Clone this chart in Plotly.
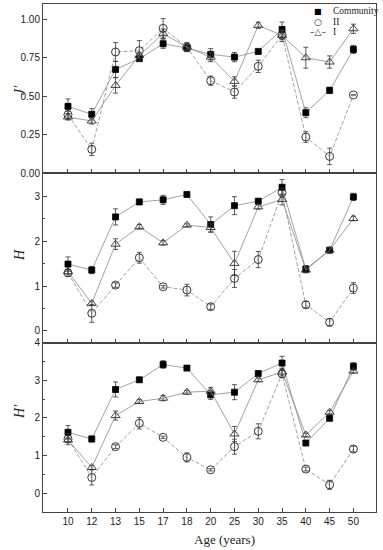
import plotly.graph_objects as go
from plotly.subplots import make_subplots

ages = ["10", "12", "13", "15", "17", "18", "20", "25", "30", "35", "40", "45", "50"]

# J' (evenness)
j_comm = [0.435, 0.383, 0.675, 0.745, 0.842, 0.814, 0.773, 0.755, 0.792, 0.935, 0.394, 0.539, 0.805]
j_comm_err = [0.048, 0.037, 0.052, 0.012, 0.03, 0.02, 0.037, 0.03, 0.012, 0.048, 0.032, 0.02, 0.026]
j_ii = [0.381, 0.156, 0.788, 0.797, 0.942, 0.82, 0.602, 0.528, 0.695, 0.898, 0.236, 0.11, 0.509]
j_ii_err = [0.03, 0.04, 0.061, 0.065, 0.063, 0.03, 0.03, 0.04, 0.04, 0.03, 0.035, 0.054, 0.0]
j_i = [0.366, 0.34, 0.571, 0.766, 0.907, 0.82, 0.755, 0.597, 0.961, 0.896, 0.751, 0.723, 0.939]
j_i_err = [0.02, 0.02, 0.05, 0.02, 0.03, 0.02, 0.03, 0.03, 0.02, 0.04, 0.068, 0.04, 0.03]

# H
h_comm = [1.489, 1.356, 2.54, 2.874, 2.92, 3.04, 2.37, 2.79, 2.89, 3.2, 1.378, 1.8, 2.985]
h_comm_err = [0.16, 0.08, 0.18, 0.06, 0.1, 0.05, 0.17, 0.2, 0.05, 0.17, 0.08, 0.05, 0.08]
h_ii = [1.296, 0.393, 1.022, 1.63, 0.985, 0.911, 0.541, 1.17, 1.59, 3.08, 0.585, 0.193, 0.956]
h_ii_err = [0.08, 0.2, 0.05, 0.12, 0.03, 0.13, 0.06, 0.2, 0.18, 0.1, 0.07, 0.08, 0.12]
h_i = [1.318, 0.615, 1.933, 2.32, 1.963, 2.356, 2.304, 1.504, 2.763, 2.926, 1.356, 1.8, 2.504]
h_i_err = [0.05, 0.05, 0.12, 0.05, 0.05, 0.03, 0.1, 0.27, 0.05, 0.12, 0.06, 0.06, 0.05]

# H'
hp_comm = [1.618, 1.44, 2.756, 3.013, 3.42, 3.324, 2.613, 2.684, 3.18, 3.458, 1.333, 1.99, 3.369]
hp_comm_err = [0.18, 0.08, 0.2, 0.05, 0.1, 0.05, 0.12, 0.2, 0.05, 0.18, 0.05, 0.05, 0.1]
hp_ii = [1.44, 0.418, 1.236, 1.858, 1.484, 0.951, 0.622, 1.236, 1.644, 3.173, 0.64, 0.222, 1.173]
hp_ii_err = [0.15, 0.2, 0.05, 0.15, 0.03, 0.12, 0.03, 0.2, 0.2, 0.1, 0.05, 0.12, 0.08]
hp_i = [1.413, 0.684, 2.062, 2.436, 2.524, 2.684, 2.711, 1.573, 3.013, 3.218, 1.547, 2.151, 3.244]
hp_i_err = [0.05, 0.05, 0.12, 0.05, 0.07, 0.05, 0.1, 0.2, 0.05, 0.1, 0.05, 0.05, 0.05]

xpos = list(range(len(ages)))

fig = make_subplots(rows=3, cols=1, shared_xaxes=True, vertical_spacing=0)

LINE = "#8a8a8a"
ERR = "#333333"

def add(row, y, err, kind):
    if kind == "comm":
        marker = dict(symbol="square", size=6, color="black", line=dict(color="black", width=0.8))
        dash = "solid"
    elif kind == "ii":
        marker = dict(symbol="circle-open", size=8, color="#222", line=dict(width=0.9))
        dash = "4px,2px"
    else:
        marker = dict(symbol="triangle-up-open", size=8, color="#333", line=dict(width=0.9))
        dash = "solid"
    fig.add_trace(go.Scatter(
        x=xpos, y=y, mode="lines+markers",
        line=dict(color=LINE, width=0.8, dash=dash),
        marker=marker,
        error_y=dict(type="data", array=err, color=ERR, thickness=0.8, width=2.5),
        showlegend=False,
    ), row=row, col=1)

add(1, j_comm, j_comm_err, "comm"); add(1, j_ii, j_ii_err, "ii"); add(1, j_i, j_i_err, "i")
add(2, h_comm, h_comm_err, "comm"); add(2, h_ii, h_ii_err, "ii"); add(2, h_i, h_i_err, "i")
add(3, hp_comm, hp_comm_err, "comm"); add(3, hp_ii, hp_ii_err, "ii"); add(3, hp_i, hp_i_err, "i")

AX = "#444444"
TICKFONT = dict(family="Liberation Sans, Arial", size=10, color="#222")

for r in (1, 2, 3):
    fig.update_xaxes(
        row=r, col=1, range=[-1.05, 12.95], tickvals=xpos, ticktext=ages,
        showline=True, linecolor=AX, linewidth=1, mirror=True,
        ticks="inside", ticklen=4, tickcolor=AX, showgrid=False, zeroline=False,
        showticklabels=(r == 3), tickfont=TICKFONT,
    )

fig.update_yaxes(row=1, col=1, range=[0, 1.1], tickvals=[0, 0.25, 0.5, 0.75, 1.0],
                 ticktext=["0.00", "0.25", "0.50", "0.75", "1.00"])
fig.update_yaxes(row=2, col=1, range=[-0.26, 3.51], tickvals=[0, 1, 2, 3],
                 minor=dict(dtick=0.5, tick0=0, ticks="inside", ticklen=2, tickcolor=AX, showgrid=False))
fig.update_yaxes(row=3, col=1, range=[-0.5, 4.0], tickvals=[0, 1, 2, 3, 4],
                 minor=dict(dtick=0.5, tick0=0, ticks="inside", ticklen=2, tickcolor=AX, showgrid=False))
for r in (1, 2, 3):
    fig.update_yaxes(row=r, col=1, showline=True, linecolor=AX, linewidth=1, mirror=True,
                     ticks="inside", ticklen=4, tickcolor=AX, showgrid=False, zeroline=False,
                     tickfont=TICKFONT)

SERIF = "Liberation Serif, Times New Roman, serif"
ann = [
    dict(text="<i>J′</i>", x=-0.069, y=0.831, textangle=-90, font=dict(family=SERIF, size=14, color="#222")),
    dict(text="<i>H</i>", x=-0.069, y=0.506, textangle=-90, font=dict(family=SERIF, size=14, color="#222")),
    dict(text="<i>H′</i>", x=-0.069, y=0.197, textangle=-90, font=dict(family=SERIF, size=14, color="#222")),
    dict(text="Age (years)", x=0.544, y=-0.055, font=dict(family=SERIF, size=13, color="#222")),
    # legend
    dict(text="■", x=0.826, y=0.986, font=dict(family="DejaVu Sans", size=8, color="black")),
    dict(text="Community", x=0.866, y=0.986, xanchor="left", font=dict(family=SERIF, size=9.5, color="#222"), align="left"),
    dict(text="○", x=0.826, y=0.965, font=dict(family="DejaVu Sans", size=9, color="#222")),
    dict(text="II", x=0.866, y=0.965, xanchor="left", font=dict(family=SERIF, size=9.5, color="#222")),
    dict(text="–△–", x=0.826, y=0.944, font=dict(family="DejaVu Sans", size=9, color="#333")),
    dict(text="I", x=0.866, y=0.944, xanchor="left", font=dict(family=SERIF, size=9.5, color="#222")),
]
for a in ann:
    a.setdefault("xanchor", "center")
    a.update(xref="paper", yref="paper", yanchor="middle", showarrow=False)
fig.update_layout(annotations=ann)

fig.update_layout(
    width=383, height=550,
    margin=dict(l=43, r=7, t=4, b=38, autoexpand=False),
    paper_bgcolor="white", plot_bgcolor="white",
    showlegend=False,
)

fig.write_html("out.html", config={"displayModeBar": False},
               post_script="document.body.style.margin='0';document.body.style.overflow='hidden';")
